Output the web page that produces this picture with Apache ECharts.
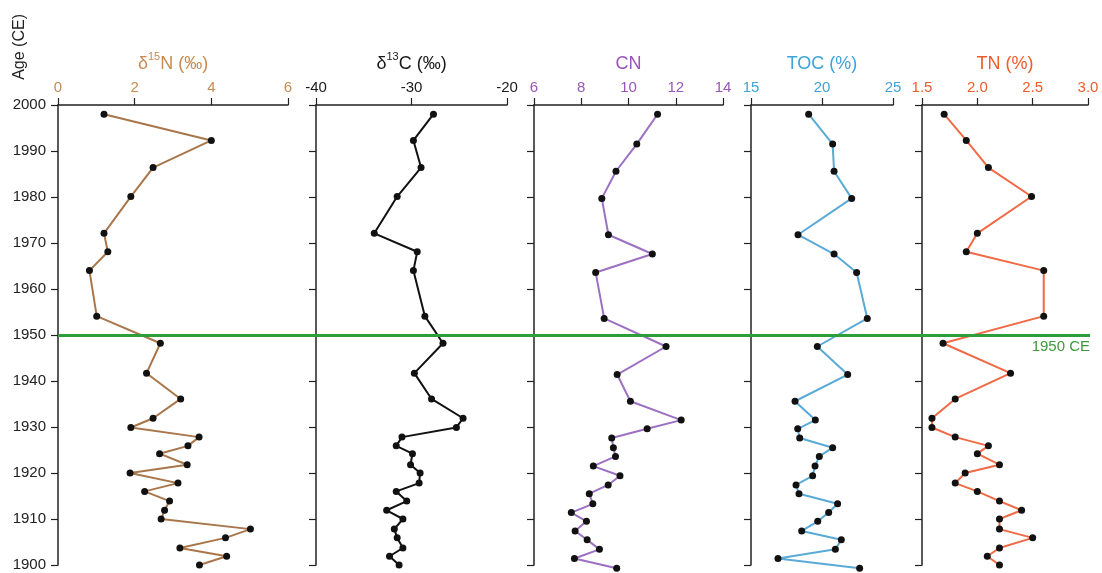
<!DOCTYPE html>
<html>
<head>
<meta charset="utf-8">
<script src="https://cdn.jsdelivr.net/npm/echarts@6/dist/echarts.min.js"></script>
<style>html,body{margin:0;padding:0;background:#fff}#c{width:1102px;height:573px}</style>
</head>
<body>
<div id="c"></div>
<script>
// Ages (CE) of samples
const ageA = [1998.0,1992.3,1986.4,1980.1,1972.1,1968.1,1964.0,1954.1,1948.2,1941.7,1936.1,1931.9,1929.9,1927.8,1925.9,1924.2,1921.8,1920.0,1917.8,1916.0,1913.9,1911.9,1910.0,1907.8,1905.9,1903.7,1901.9,1900.0];
const ageB = [1998.0,1991.5,1985.6,1979.7,1971.8,1967.6,1963.6,1953.6,1947.5,1941.4,1935.6,1931.5,1929.6,1927.6,1925.5,1923.6,1921.5,1919.4,1917.4,1915.5,1913.3,1911.4,1909.5,1907.4,1905.5,1903.4,1901.4,1899.3];
// Series values
const d15N = [1.20,4.00,2.48,1.90,1.20,1.30,0.82,1.01,2.67,2.31,3.20,2.48,1.90,3.68,3.39,2.65,3.37,1.88,3.13,2.26,2.91,2.78,2.69,5.02,4.37,3.18,4.40,3.69];
const d13C = [-27.7,-29.8,-29.0,-31.5,-33.9,-29.4,-29.8,-28.6,-26.7,-29.7,-27.9,-24.6,-25.3,-31.0,-31.6,-29.9,-30.1,-29.1,-29.2,-31.6,-30.5,-32.6,-30.9,-31.8,-31.5,-30.9,-32.3,-31.3];
const CN = [11.23,10.35,9.47,8.87,9.15,11.01,8.61,8.97,11.59,9.52,10.08,12.23,10.79,9.29,9.36,9.45,8.51,9.64,9.14,8.34,8.49,7.58,8.22,7.74,8.25,8.77,7.71,9.50];
const TOC = [19.06,20.75,20.85,22.09,18.31,20.85,22.44,23.19,19.67,21.81,18.10,19.53,18.29,18.43,20.75,19.81,19.51,19.34,18.17,18.38,21.10,20.47,19.70,18.57,21.36,20.94,16.90,22.65];
const TN = [1.70,1.90,2.10,2.49,2.00,1.90,2.60,2.60,1.69,2.30,1.80,1.59,1.59,1.80,2.10,2.00,2.20,1.89,1.80,2.00,2.20,2.40,2.20,2.20,2.50,2.20,2.09,2.20];
// Axis settings
const ageMin = 1900, ageMax = 2000, ageStep = 10;
const refAge = 1950;
const refLabel = '1950 CE';
const yName = 'Age (CE)';

const FONT = '"Liberation Sans", Arial, sans-serif';
const panels = [
  {vals:d15N, ages:ageA, min:0, max:6, step:2, dec:0, title:['δ','15','N (‰)'], tcolor:'#C68A52', lcolor:'#A8764A', left:58, width:230},
  {vals:d13C, ages:ageA, min:-40, max:-20, step:10, dec:0, title:['δ','13','C (‰)'], tcolor:'#1a1a1a', lcolor:'#111111', left:316, width:191},
  {vals:CN, ages:ageB, min:6, max:14, step:2, dec:0, title:['CN'], tcolor:'#9B55B8', lcolor:'#9C70C2', left:534, width:189},
  {vals:TOC, ages:ageB, min:15, max:25, step:5, dec:0, title:['TOC (%)'], tcolor:'#3FA2D8', lcolor:'#5AAAD6', left:751, width:142},
  {vals:TN, ages:ageA, min:1.5, max:3.0, step:0.5, dec:1, title:['TN (%)'], tcolor:'#F05B2B', lcolor:'#EF6A45', left:922, width:166}
];
const TOP = 105, HEIGHT = 460;

const grid = [], xAxis = [], yAxis = [], series = [];
panels.forEach((p, i) => {
  grid.push({left:p.left, top:TOP, width:p.width, height:HEIGHT, containLabel:false});
  let name;
  if (p.title.length === 3) {
    name = '{t|' + p.title[0] + '}{s|' + p.title[1] + '}{t|' + p.title[2] + '}';
  } else {
    name = '{t|' + p.title[0] + '}';
  }
  xAxis.push({
    gridIndex:i, type:'value', position:'top', min:p.min, max:p.max, interval:p.step,
    name:name, nameLocation:'middle', nameGap:32,
    nameTextStyle:{color:p.tcolor, fontFamily:FONT, fontSize:18,
      rich:{t:{color:p.tcolor, fontFamily:FONT, fontSize:18, lineHeight:22, verticalAlign:'bottom'},
            s:{color:p.tcolor, fontFamily:FONT, fontSize:11, lineHeight:12, verticalAlign:'top'}}},
    axisLine:{show:true, onZero:false, lineStyle:{color:'#222', width:1.5}},
    axisTick:{show:true, length:7, lineStyle:{color:'#222', width:1.2}},
    axisLabel:{color:p.tcolor, fontFamily:FONT, fontSize:15, margin:10,
      formatter:v => v.toFixed(p.dec)},
    splitLine:{show:false}
  });
  yAxis.push({
    gridIndex:i, type:'value', min:ageMin, max:ageMax, interval:ageStep,
    axisLine:{show:true, onZero:false, lineStyle:{color:'#222', width:1.5}},
    axisTick:{show:true, length:7, lineStyle:{color:'#222', width:1.2}},
    axisLabel:{show:i===0, color:'#222', fontFamily:FONT, fontSize:15, margin:12,
      formatter:v => String(v)},
    splitLine:{show:false}
  });
  series.push({
    type:'line', xAxisIndex:i, yAxisIndex:i, clip:false, z:3,
    data:p.vals.map((v, k) => [v, p.ages[k]]),
    symbol:'circle', symbolSize:7,
    itemStyle:{color:'#111'},
    lineStyle:{color:p.lcolor, width:2}
  });
});
// reference line grid spanning all panels
grid.push({left:58, right:12, top:TOP, height:HEIGHT});
xAxis.push({gridIndex:5, type:'value', min:0, max:1, show:false});
yAxis.push({gridIndex:5, type:'value', min:ageMin, max:ageMax, show:false});
series.push({
  type:'line', xAxisIndex:5, yAxisIndex:5, data:[], z:2,
  markLine:{symbol:'none', silent:true,
    lineStyle:{color:'#2E9E3A', width:3, type:'solid'},
    label:{show:true, position:'insideEndBottom', formatter:refLabel, color:'#3A9A3A', fontFamily:FONT, fontSize:15, distance:[0,4]},
    data:[{yAxis:refAge}]}
});

const chart = echarts.init(document.getElementById('c'), null, {renderer:'canvas'});
chart.setOption({
  animation:false,
  backgroundColor:'#ffffff',
  grid, xAxis, yAxis, series,
  graphic:[{type:'text', left:12, top:14, rotation:Math.PI/2,
    style:{text:yName, fill:'#222', font:'16px ' + FONT}}]
});
</script>
</body>
</html>
